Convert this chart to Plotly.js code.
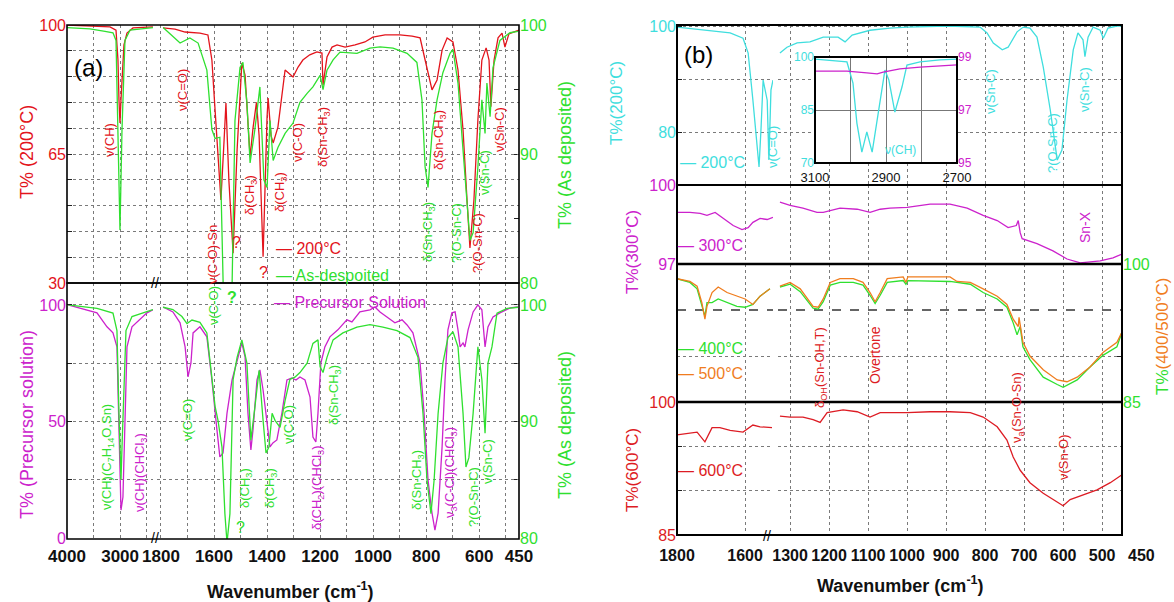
<!DOCTYPE html>
<html><head><meta charset="utf-8">
<script src="https://cdn.plot.ly/plotly-3.0.1.min.js"></script>
<style>html,body{margin:0;padding:0;background:#fff}#chart{width:1174px;height:602px}</style>
</head><body><div id="chart"></div>
<script>
// ---------- DATA (wavenumber cm-1, transmittance %) ----------
// Panel (a), upper frame
const a200_wn = [4000,3567,3190,3077,3040,3021,3002,2983,2964,2927,2870,2757,2381,
 1792,1747,1709,1653,1623,1608,1596,1581,1574,1562,1555,1544,1528,1513,1495,1483,1464,1453,1440,1430,1415,1400,1396,1385,1377,1359,1340,1332,1302,1283,1265,1239,1212,1193,1189,1174,1155,1136,1106,1068,1031,1001,955,899,853,823,804,778,759,740,721,699,680,661,646,635,620,605,590,574,563,556,544,529,514,503,488,469,450];
const a200_t = [100,99.7,99.5,98.6,90.5,79.7,73.4,79.7,85.1,94.6,97.8,99.2,99.5,
 99.2,98.9,98.1,97.8,97.3,90.5,76.9,57.9,52.5,68.8,78.8,57.9,38.1,66.1,89.7,86.4,64.2,72,79,70,37.1,75,80.2,70,68.0,72.3,84,87.8,85.9,88.6,90.5,91.9,92.7,92.4,83.7,91.3,94.0,94.6,94.0,94.6,95.4,96.7,97.3,97.3,97.0,96.5,90.5,82.4,85.1,93.2,96.5,95.4,87.8,71.5,52.5,39.5,52.5,74.2,90.5,93.8,90.5,77.8,90.5,96.5,97.8,94.0,97.6,98.1,98.6];
const aAsTop_wn = [4000,3567,3284,3134,3077,3040,3002,2964,2908,2814,2381,
 1792,1728,1691,1660,1627,1608,1596,1578,1559,1547,1536,1521,1502,1491,1476,1464,1446,1427,1412,1400,1389,1377,1359,1332,1302,1276,1249,1227,1200,1189,1174,1151,1125,1061,1012,974,925,872,835,816,804,793,778,759,737,710,699,680,661,646,635,623,605,590,578,571,559,548,522,484,454];
const aAsTop_t = [99.8,99.7,99.5,99.4,98.8,92.6,84.1,91.9,98.8,99.6,99.8,
 99.8,98.6,99.0,98.6,96.5,91.9,91.2,91.3,74,70,75,92.6,96.7,97.1,94.0,89.3,91.9,95.2,88.0,87.4,92.6,89.5,90.5,91.6,92.4,94.0,94.7,95.2,96.1,95.0,96.5,97.3,97.9,97.8,98.2,98.3,98.2,97.8,97.1,94.2,89.0,87.4,91.6,94.2,96.3,97.8,98.1,95.5,90.3,86.4,83.3,83.9,89.0,94.2,91.6,95.5,92.9,96.7,98.8,99.4,99.5];
// Panel (a), lower frame
const aPre_wn = [3981,3755,3435,3247,3134,3059,3021,2983,2946,2908,2870,2776,2682,2494,2381,
 1792,1755,1728,1709,1698,1687,1679,1653,1627,1608,1589,1578,1566,1551,1532,1513,1495,1483,1472,1461,1453,1438,1427,1415,1400,1389,1378,1363,1344,1325,1306,1291,1276,1257,1238,1227,1216,1208,1197,1182,1163,1133,1099,1080,1050,1012,993,974,948,918,891,872,850,823,808,793,778,767,755,740,729,718,703,691,680,672,661,654,642,623,605,590,578,567,548,522,484,454];
const aPre_t = [100,98.7,96.6,90.6,88.0,82.0,39.1,12.0,17.6,53.6,82.0,90.6,92.7,96.6,97.9,
 99.1,97.0,92.3,82.0,69.1,75.1,88.0,90.6,86.3,67.8,46.4,34.8,36.5,53.6,67.8,76.4,83.7,77.7,53.6,37.8,46.4,67.8,72.1,63.5,50.6,39.1,40.8,42.1,53.6,67.8,68.7,67.8,69.1,67.8,60.5,43.3,41.2,53.6,75.1,82.0,86.3,89.3,93.6,92.7,97.0,97.9,99.1,97.0,94.8,92.3,93.6,91.4,88.0,75.1,53.6,24.9,10.7,3.4,10.7,39.1,67.8,89.3,96.6,97.0,89.3,82.0,83.7,82.0,89.3,97.0,100,97.9,82.0,90.6,94.8,96.6,98.7,99.1];
const aAsBot_wn = [3981,3435,3134,3059,3021,2983,2964,2927,2889,2776,2494,2381,
 1792,1755,1721,1702,1683,1653,1627,1608,1596,1585,1570,1559,1551,1540,1528,1513,1495,1476,1461,1446,1430,1415,1404,1393,1381,1370,1351,1332,1314,1295,1276,1249,1227,1208,1200,1189,1174,1151,1114,1061,1012,963,910,861,831,812,797,782,770,755,737,718,699,680,661,650,639,623,605,590,578,567,552,533,495,454];
const aAsBot_t = [100,99.7,99.3,97.8,90.7,85.0,87.8,93.6,97.8,99.0,99.4,99.6,
 99.8,99.6,99.0,98.4,98.7,98.5,97.6,93.6,91.3,90.1,87.8,82.1,79.6,82.1,93.6,95.5,97.0,95.0,88.4,91.2,94.4,90.1,87.3,87.8,90.7,90.1,89.5,91.8,93.6,93.8,94.2,95.0,96.7,97.0,94.7,94.2,95.5,97.0,97.6,98.1,98.3,98.1,97.8,97.2,95.5,90.7,85.0,82.1,85.0,90.7,95.0,97.2,97.7,96.4,90.7,86.1,86.9,90.7,96.4,93.6,89.0,95.0,96.4,99.3,99.7,99.8];
// Panel (b)
const b200_wn = [1800,1712,1644,1606,1591,1577,1565,1559,1553,1547,1535,1530,1524,1518,
 1326,1308,1282,1249,1215,1177,1159,1141,1095,1044,1000,897,813,795,779,756,741,718,702,685,667,651,633,621,615,603,590,574,562,549,544,536,523,505,497,485,462,449];
const b200_t = [99.8,99.2,98.7,97.7,94.9,86.0,77.2,73.4,80.9,89.8,86.0,74.7,87.9,89.8,
 94.9,96.0,96.8,97.0,97.9,97.9,97.0,98.3,99.2,99.6,99.8,100,99.8,98.7,96.8,95.5,96.0,98.9,99.8,99.6,97.9,92.3,84.2,77.9,74.7,76.6,86.0,95.5,98.7,97.4,94.2,97.9,99.8,99.2,97.7,99.6,100,100];
const b300_wn = [1800,1762,1732,1712,1688,1665,1635,1609,1591,1577,1556,1535,1518,
 1326,1300,1267,1231,1215,1172,1128,1095,1069,1044,1000,941,890,846,805,769,741,720,715,710,705,667,626,590,556,505,472,449];
const b300_t = [98.96,98.96,98.92,98.85,98.96,98.73,98.46,98.31,98.38,98.58,98.73,98.69,98.77,
 99.35,99.23,99.12,98.96,98.96,99.12,99.08,98.96,99.08,99.12,99.15,99.27,99.27,99.12,98.85,98.65,98.38,98.46,98.65,98.19,97.96,97.77,97.50,97.19,97.04,97.12,97.23,97.38];
const b400_wn = [1800,1762,1741,1727,1718,1712,1697,1679,1653,1624,1600,1577,1556,1527,
 1326,1300,1274,1254,1241,1228,1215,1197,1172,1138,1113,1095,1082,1069,1051,1010,1003,998,890,838,805,769,744,728,718,710,703,685,651,615,600,564,531,497,462,449];
const b400_t = [98.4,98.0,97.3,95.4,94.3,95.8,95.8,96.2,95.8,95.4,95.3,95.6,96.5,97.3,
 97.5,97.8,97.0,95.9,95.2,95.1,95.9,97.7,98.0,98.0,97.7,96.6,95.7,96.6,98.0,98.2,97.8,98.2,98.1,97.8,96.9,96.2,95.3,93.6,92.3,93.2,91.0,89.6,87.7,86.9,86.6,87.4,88.8,90.1,91.0,92.6];
const b500_wn = [1800,1762,1741,1727,1718,1712,1697,1679,1653,1624,1600,1577,1556,1527,
 1326,1300,1274,1254,1241,1228,1215,1197,1172,1138,1113,1095,1082,1069,1051,1010,1003,998,921,890,872,838,805,769,744,728,715,713,703,685,651,615,590,564,531,497,462,449];
const b500_t = [98.4,98.1,97.6,95.8,94.0,95.4,96.9,97.5,96.9,96.5,96.2,95.6,96.5,97.3,
 97.6,98.0,97.3,96.2,95.4,95.3,96.2,98.0,98.4,98.4,98.0,96.9,95.9,96.9,98.4,98.6,98.0,98.6,98.6,98.6,98.1,98.0,97.3,96.5,95.6,94.0,93.2,94.2,91.5,90.0,88.5,87.4,87.2,87.7,88.8,90.4,91.5,92.6];
const b600_wn = [1800,1762,1741,1718,1697,1674,1644,1606,1577,1556,1521,
 1326,1300,1267,1241,1223,1205,1164,1128,1095,1069,1000,941,890,838,805,769,744,728,710,685,651,615,600,582,549,513,479,462,449];
const b600_t = [96.3,96.5,96.6,95.5,97.1,97.1,96.8,96.6,97.4,97.2,97.1,
 98.4,98.3,98.3,98.0,97.7,98.8,99.1,98.9,98.3,98.8,98.8,98.9,98.9,98.8,98.3,97.2,95.7,93.8,92.3,90.9,89.7,88.7,88.3,89.0,89.5,90.1,90.9,91.4,91.8];
// Inset (C-H region)
const in200_wn = [3100,3010,2993,2982,2968,2954,2939,2923,2903,2892,2875,2855,2841,2804,2748,2700];
const in200_t = [99.4,98.6,92.6,81.3,73.1,78.8,73.1,83.0,96.3,93.5,84.4,91.5,97.7,98.6,99.2,99.4];
const in300_wn = [3100,3010,2954,2925,2908,2861,2804,2700];
const in300_t = [98.47,98.47,98.40,98.36,98.43,98.55,98.62,98.70];

// tick labels (labelled ticks) and unlabelled grid positions
const aLeftTicks = [4000,3000], aLeftMinor = [3500,2500];
const aRightTicks = [1800,1600,1400,1200,1000,800,600,450], aRightMinor = [1700,1500,1300,1100,900,700,500];
const bLeftTicks = [1800,1600];
const bRightTicks = [1300,1200,1100,1000,900,800,700,600,500];
const insetTicks = [3100,2900,2700], insetMinor = [3000,2800];

// ---------- STYLE ----------
const W = 1174, H = 602;
const F = 'Liberation Sans, Arial, Helvetica, sans-serif';
const R = '#e3141c', G = '#2fe02f', M = '#cc22cc', C = '#3fdede', O = '#f07d1e', R2 = '#dd1c24';
const GRID = '#7a7a7a';
const X = p => p / W, Y = p => 1 - p / H;

function seg(wn, t, lo, hi) {
  const x = [], y = [];
  for (let i = 0; i < wn.length; i++) if (wn[i] >= lo && wn[i] <= hi) { x.push(wn[i]); y.push(t[i]); }
  return {x, y};
}
function tr(wn, t, lo, hi, xa, ya, color, w) {
  const s = seg(wn, t, lo, hi);
  return {type:'scatter', mode:'lines', x:s.x, y:s.y, xaxis:xa, yaxis:ya,
    line:{color:color, width:w || 1.3}, hoverinfo:'skip', showlegend:false};
}
const traces = [
  tr(aAsTop_wn, aAsTop_t, 2000, 5000, 'x', 'y2', G),
  tr(aAsTop_wn, aAsTop_t, 0, 1900, 'x2', 'y2', G),
  tr(a200_wn, a200_t, 2000, 5000, 'x', 'y', R),
  tr(a200_wn, a200_t, 0, 1900, 'x2', 'y', R),
  tr(aPre_wn, aPre_t, 2000, 5000, 'x', 'y3', M),
  tr(aPre_wn, aPre_t, 0, 1900, 'x2', 'y3', M),
  tr(aAsBot_wn, aAsBot_t, 2000, 5000, 'x', 'y4', G),
  tr(aAsBot_wn, aAsBot_t, 0, 1900, 'x2', 'y4', G),
  tr(b200_wn, b200_t, 1500, 2000, 'x3', 'y5', C),
  tr(b200_wn, b200_t, 0, 1400, 'x4', 'y5', C),
  tr(b300_wn, b300_t, 1500, 2000, 'x3', 'y6', M),
  tr(b300_wn, b300_t, 0, 1400, 'x4', 'y6', M),
  tr(b400_wn, b400_t, 1500, 2000, 'x3', 'y7', G),
  tr(b400_wn, b400_t, 0, 1400, 'x4', 'y7', G),
  tr(b500_wn, b500_t, 1500, 2000, 'x3', 'y7', O),
  tr(b500_wn, b500_t, 0, 1400, 'x4', 'y7', O),
  tr(b600_wn, b600_t, 1500, 2000, 'x3', 'y8', R2),
  tr(b600_wn, b600_t, 0, 1400, 'x4', 'y8', R2),
  tr(in200_wn, in200_t, 0, 5000, 'x5', 'y9', C),
  tr(in300_wn, in300_t, 0, 5000, 'x5', 'y10', M)
];

function minorCfg(vals, grid, ticks) {
  return {tickmode:'array', tickvals:vals, showgrid:grid, gridcolor:GRID, griddash:'dot', gridwidth:1,
    ticks:ticks || '', ticklen:5, tickcolor:'#222'};
}
function xax(d0, d1, range, tv, minor, anchor, size, standoff) {
  const o = {domain:[X(d0), X(d1)], range:range, autorange:false, tickmode:'array', tickvals:tv,
    ticktext:tv.map(String), tickangle:0, showgrid:true, gridcolor:GRID, griddash:'dot', gridwidth:1,
    zeroline:false, showline:false, ticks:'', anchor:anchor, fixedrange:true, ticklabelstandoff:standoff,
    tickfont:{family:F, size:size, color:'#111', weight:'bold'}};
  if (minor) o.minor = minorCfg(minor, true);
  return o;
}
function yax(p0, p1, range, tv, minor, anchor, color, extra) {
  const o = {range:range, autorange:false, tickmode:'array', tickvals:tv, ticktext:tv.map(String),
    showgrid:true, gridcolor:GRID, griddash:'dot', gridwidth:1, zeroline:false, showline:false,
    ticks:'inside', ticklen:5, tickcolor:'#222', anchor:anchor, fixedrange:true,
    tickfont:{family:F, size:16, color:color}};
  if (p0 !== null) o.domain = [Y(p1), Y(p0)];
  if (minor) o.minor = minorCfg(minor, !(extra && extra.showgrid === false), 'inside');
  return Object.assign(o, extra || {});
}

const layout = {
  width:W, height:H, margin:{l:0, r:0, t:0, b:0}, paper_bgcolor:'#fff', plot_bgcolor:'#fff',
  showlegend:false, hovermode:false,
  xaxis: xax(67, 153, [4000, 2380], aLeftTicks, aLeftMinor, 'y3', 17, 5),
  xaxis2: xax(157, 519, [1815, 450], aRightTicks, aRightMinor, 'y3', 17, 5),
  yaxis: yax(25, 283, [30, 100], [30,65,100], [37,44,51,58,72,79,86,93], 'x', R),
  yaxis2: yax(null, null, [80, 100], [80,90,100], [85,95], 'x2', G, {overlaying:'y', side:'right', showgrid:false}),
  yaxis3: yax(283, 539, [-0.4, 109.4], [0,50,100], [25,75], 'x', M),
  yaxis4: yax(null, null, [79.92, 101.88], [80,90,100], [85,95], 'x2', G, {overlaying:'y3', side:'right', showgrid:false}),
  xaxis3: xax(677, 773, [1800, 1518], bLeftTicks, null, 'y8', 16, 9),
  xaxis4: xax(778, 1122, [1331, 449], bRightTicks, null, 'y8', 16, 9),
  yaxis5: yax(25, 185, [70, 100.19], [80,100], [90], 'x3', C),
  yaxis6: yax(185, 264, [97, 100], [97,100], null, 'x3', M, {showgrid:false}),
  yaxis7: yax(264, 402, [85, 100], [85,100], [90], 'x4', G, {side:'right'}),
  yaxis8: yax(402, 535, [85, 100], [85,100], [90,95], 'x3', R2),
  xaxis5: {domain:[X(815), X(957)], range:[3100, 2700], autorange:false, tickmode:'array',
    tickvals:insetTicks, ticktext:insetTicks.map(String), tickangle:0, ticklabelstandoff:5,
    showgrid:true, gridcolor:'#777', gridwidth:1, zeroline:false, showline:false, ticks:'', anchor:'y9',
    fixedrange:true, tickfont:{family:F, size:13, color:'#111'},
    minor:{tickmode:'array', tickvals:insetMinor, showgrid:true, gridcolor:'#777', gridwidth:1, ticks:''}},
  yaxis9: yax(57, 163, [70, 100], [70,85,100], null, 'x5', C,
    {griddash:'solid', gridcolor:'#777', ticks:'', tickfont:{family:F, size:12, color:C}}),
  yaxis10: yax(null, null, [95, 99], [95,97,99], null, 'x5', M,
    {overlaying:'y9', side:'right', showgrid:false, ticks:'', tickfont:{family:F, size:12, color:M}}),
  shapes: [], annotations: []
};

function rect(x0, y0, x1, y1, w) {
  return {type:'rect', xref:'paper', yref:'paper', x0:X(x0), x1:X(x1), y0:Y(y1), y1:Y(y0),
    line:{color:'#000', width:w}, fillcolor:'rgba(0,0,0,0)', layer:'above'};
}
function hline(x0, x1, y, w) {
  return {type:'line', xref:'paper', yref:'paper', x0:X(x0), x1:X(x1), y0:Y(y), y1:Y(y),
    line:{color:'#000', width:w}, layer:'above'};
}
layout.shapes.push(rect(67, 25, 519, 283, 1.6), rect(67, 283, 519, 539, 1.6),
  rect(677, 25, 1122, 535, 2), hline(677, 1122, 185, 2), hline(677, 1122, 264, 2.4), hline(677, 1122, 402, 2.4),
  {type:'line', xref:'x4', yref:'y7', x0:1331, x1:449, y0:95, y1:95, line:{color:'#333', width:1.3, dash:'dash'}, layer:'below'},
  {type:'line', xref:'x3', yref:'y7', x0:1800, x1:1518, y0:95, y1:95, line:{color:'#333', width:1.3, dash:'dash'}, layer:'below'},
  rect(815, 57, 957, 163, 2));

function ann(text, x, y, color, size, angle, opt) {
  layout.annotations.push(Object.assign({text:text, xref:'paper', yref:'paper', x:X(x), y:Y(y),
    showarrow:false, xanchor:'center', yanchor:'middle', textangle:angle || 0,
    font:{family:F, size:size || 13, color:color}}, opt || {}));
}
const V = -90;
const bold = (s, c) => ({font:{family:F, size:s, color:c, weight:'bold'}});
// axis titles
ann('T% (200°C)', 27, 152, R, 18, V);
ann('T% (As deposited)', 565, 155, G, 18, V);
ann('T% (Precursor solution)', 27, 425, M, 18, V);
ann('T% (As deposited)', 565, 425, G, 18, V);
ann('Wavenumber (cm<sup>-1</sup>)', 290, 590, '#111', 18, 0, bold(18, '#111'));
ann('T%(200°C)', 617, 103, C, 17, V);
ann('T%(300°C)', 632, 252, M, 17, V);
ann('T%(600°C)', 632, 470, R2, 17, V);
ann('<span style="color:' + G + '">T%</span>(400/500°C)', 1163, 337, O, 17, V);
ann('Wavenumber (cm<sup>-1</sup>)', 900, 584, '#111', 18, 0, bold(18, '#111'));
ann('450', 1141, 555, '#111', 16, 0, bold(16, '#111'));
// panel letters and break marks
ann('(a)', 88, 68, '#000', 24);
ann('(b)', 698, 55, '#000', 24);
ann('//', 155, 283, '#000', 14);
ann('//', 155, 538, '#000', 14);
ann('//', 767, 536, '#000', 14);
// legends
const lg = (t, x, y, c) => ann('— ' + t, x, y, c, 16, 0, {xanchor:'left'});
lg('200°C', 274, 248, R); lg('As-despoited', 274, 275, G); lg('Precursor Solution', 272, 302, M);
lg('200°C', 678, 163, C); lg('300°C', 676, 245, M); lg('400°C', 676, 348, G); lg('500°C', 676, 373, O); lg('600°C', 676, 470, R2);
// band labels panel (a) upper
ann('ν(CH)', 110, 140, R, 13, V);
ann('ν(C=O)', 183, 90, R, 13, V);
ann('ν(C-O)-Sn', 212, 255, R, 13, V);
ann('?', 236, 242, R, 16);
ann('δ(CH<sub>3</sub>)', 250, 195, R, 13, V);
ann('δ(CH<sub>3</sub>)', 280, 192, R, 13, V);
ann('?', 263, 272, R, 16);
ann('ν(C-O)', 297, 142, R, 13, V);
ann('δ(Sn-CH<sub>3</sub>)', 323, 137, R, 13, V);
ann('δ(Sn-CH<sub>3</sub>)', 440, 140, R, 13, V);
ann('δ(Sn-CH<sub>3</sub>)', 428, 232, G, 13, V);
ann('?(O-Sn-C)', 457, 233, G, 13, V);
ann('?(O-Sn-C)', 478, 243, R, 13, V);
ann('ν(Sn-C)', 485, 173, G, 13, V);
ann('ν(Sn-C)', 500, 130, R, 13, V);
// panel (a) lower
ann('ν(C-O)', 213, 306, G, 13, V);
ann('?', 232, 297, G, 16, 0, bold(16, G));
ann('ν(CH)(C<sub>7</sub>H<sub>14</sub>O,Sn)', 107, 457, G, 13, V);
ann('ν(CH)(CHCl<sub>3</sub>)', 140, 473, M, 13, V);
ann('ν(C=O)', 187, 420, G, 13, V);
ann('?', 240, 527, G, 16);
ann('δ(CH<sub>3</sub>)', 245, 488, G, 13, V);
ann('δ(CH<sub>3</sub>)', 270, 488, G, 13, V);
ann('ν(C-O)', 288, 425, G, 13, V);
ann('δ(CH<sub>2</sub>)(CHCl<sub>3</sub>)', 317, 488, M, 13, V);
ann('δ(Sn-CH<sub>3</sub>)', 334, 395, G, 13, V);
ann('δ(Sn-CH<sub>3</sub>)', 417, 480, G, 13, V);
ann('ν<sub>3</sub>(C-Cl)(CHCl<sub>3</sub>)', 450, 473, M, 13, V);
ann('?(O-Sn-C)', 473, 497, G, 13, V);
ann('ν(Sn-C)', 487, 462, G, 13, V);
// panel (b)
ann('ν(C=O)', 772, 147, C, 13, V);
ann('ν(CH)', 900, 150, C, 12);
ann('ν(Sn-C)', 990, 92, C, 13, V);
ann('?(O-Sn-C)', 1053, 143, C, 13, V);
ann('ν(Sn-C)', 1085, 90, C, 13, V);
ann('Sn-X', 1085, 227, M, 14, V);
ann('δ<sub>OH</sub>(Sn-OH,T)', 820, 368, R2, 13, V);
ann('Overtone', 875, 355, R2, 14, V);
ann('ν<sub>a</sub>(Sn-O-Sn)', 1017, 408, R2, 13, V);
ann('ν(Sn-O)', 1063, 457, R2, 13, V);

Plotly.newPlot('chart', traces, layout, {staticPlot:true, displayModeBar:false});
</script>
</body></html>
